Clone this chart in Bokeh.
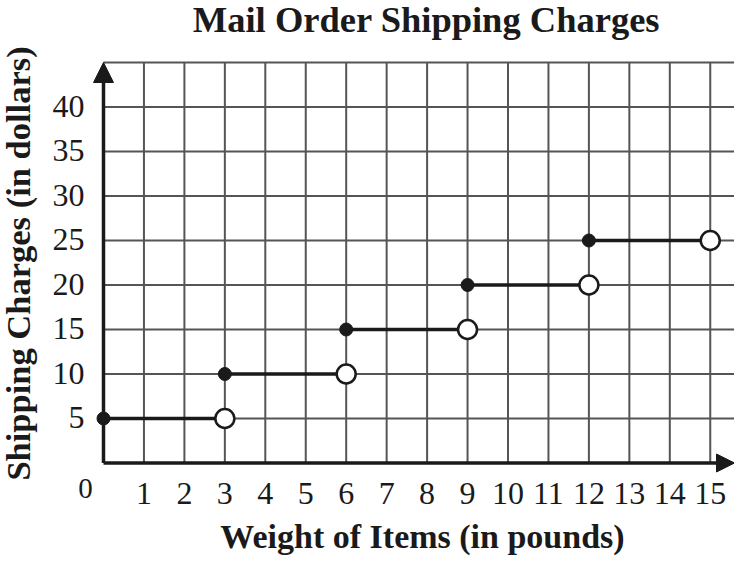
import math
from bokeh.plotting import figure
from bokeh.models import Range1d, Arrow, NormalHead
from bokeh.core.properties import value
from bokeh.embed import file_html
from bokeh.resources import INLINE

# ---- data ----
title_text = "Mail Order Shipping Charges"
x_title = "Weight of Items (in pounds)"
y_title = "Shipping Charges (in dollars)"
step_start = [0, 3, 6, 9, 12]          # closed dots (included)
step_end = [3, 6, 9, 12, 15]           # open circles (excluded)
charges = [5, 10, 15, 20, 25]
x_ticks = list(range(1, 16))
x_tick_labels = [str(t) for t in x_ticks]
y_ticks = [5, 10, 15, 20, 25, 30, 35, 40]
y_tick_labels = [str(t) for t in y_ticks]
y_grid = [5, 10, 15, 20, 25, 30, 35, 40, 45]
x_max = 15.6
y_max = 45

# ---- layout / style ----
W, H = 734, 557
ORIGIN_X, ORIGIN_Y = 103, 462.5      # canvas pixel position of (0,0)
PX_X, PX_Y = 40.45, 8.9              # pixels per data unit
BASE_FIX = 0.36                      # renderer draws "alphabetic" text this many em low
SERIF = "Liberation Serif"
INK = "#1a1a1a"
GRID = "#555555"

def to_x(px):
    return (px - ORIGIN_X) / PX_X

def to_y(py):
    return (ORIGIN_Y - py) / PX_Y

p = figure(width=W, height=H, output_backend="svg", toolbar_location=None,
           x_range=Range1d(to_x(0), to_x(W)), y_range=Range1d(to_y(H), to_y(0)),
           min_border=0)
p.outline_line_color = None
p.axis.visible = False
p.xgrid.visible = False
p.ygrid.visible = False

# grid lines
p.segment(x0=x_ticks, x1=x_ticks, y0=[0] * len(x_ticks), y1=[y_max] * len(x_ticks),
          line_color=GRID, line_width=2)
p.segment(x0=[0] * len(y_grid), x1=[x_max] * len(y_grid), y0=y_grid, y1=y_grid,
          line_color=GRID, line_width=2)

# axes with arrows
p.add_layout(Arrow(x_start=0, y_start=0, x_end=0, y_end=y_max, line_color=INK, line_width=3.5,
                   end=NormalHead(size=20, fill_color=INK, line_color=INK, line_width=1)))
p.add_layout(Arrow(x_start=0, y_start=0, x_end=x_max, y_end=0, line_color=INK, line_width=3.5,
                   end=NormalHead(size=18, fill_color=INK, line_color=INK, line_width=1)))

# step function
p.segment(x0=step_start, x1=step_end, y0=charges, y1=charges, line_color=INK, line_width=3.5)
p.scatter(x=step_start, y=charges, size=13, fill_color=INK, line_color=INK)
p.scatter(x=step_end, y=charges, size=19, fill_color="white", line_color=INK, line_width=2.5)

def baseline_y(py, size):
    # data y for a desired alphabetic baseline at canvas pixel row py
    return to_y(py - BASE_FIX * size)

# tick labels
TICK = 32
p.text(x=x_ticks, y=[baseline_y(ORIGIN_Y + 42.5, TICK)] * len(x_ticks), text=x_tick_labels,
       text_font=value(SERIF), text_font_size=f"{TICK}px", text_color=INK,
       text_align="center", text_baseline="alphabetic")
p.text(x=[to_x(ORIGIN_X - 19)] * len(y_ticks),
       y=[t - (11 - BASE_FIX * TICK) / PX_Y for t in y_ticks],
       text=y_tick_labels, text_font=value(SERIF), text_font_size=f"{TICK}px", text_color=INK,
       text_align="right", text_baseline="alphabetic")
p.text(x=[to_x(ORIGIN_X - 18)], y=[baseline_y(ORIGIN_Y + 35.5, 29)], text=["0"],
       text_font=value(SERIF), text_font_size="29px", text_color=INK,
       text_align="center", text_baseline="alphabetic")

# titles
p.text(x=[to_x(426)], y=[baseline_y(32, 36.5)], text=[title_text],
       text_font=value(SERIF), text_font_style="bold", text_font_size="36.5px",
       text_color=INK, text_align="center", text_baseline="alphabetic")
p.text(x=[to_x(422)], y=[baseline_y(548.5, 34)], text=[x_title],
       text_font=value(SERIF), text_font_style="bold", text_font_size="34px",
       text_color=INK, text_align="center", text_baseline="alphabetic")
p.text(x=[to_x(30 - BASE_FIX * 34.5)], y=[to_y(263)], text=[y_title], angle=math.pi / 2,
       text_font=value(SERIF), text_font_style="bold", text_font_size="34.5px",
       text_color=INK, text_align="center", text_baseline="alphabetic")

open("out.html", "w").write(file_html(p, INLINE))
